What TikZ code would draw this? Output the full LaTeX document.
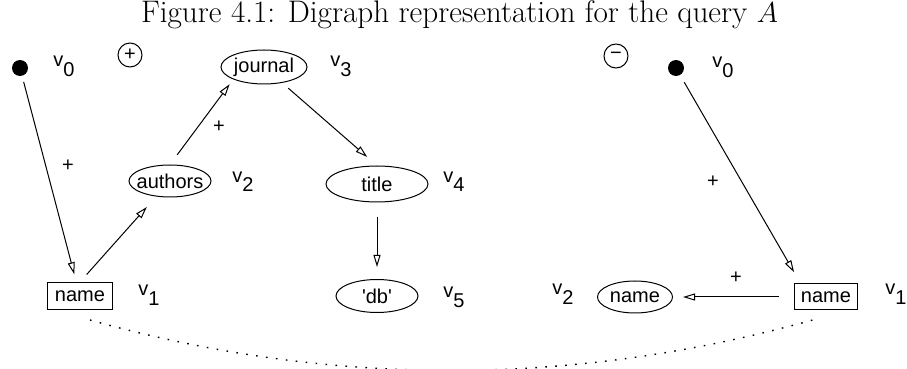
\documentclass[tikz,border=0pt]{standalone}
\usepackage{fontspec}
\setsansfont{Liberation Sans}
\usetikzlibrary{arrows.meta,shapes.geometric}
\newcommand{\vsub}[1]{\raisebox{5pt}{v}#1}
\newcommand{\zbox}[1]{\makebox[0pt]{#1}}

\begin{document}
\begin{tikzpicture}[x=0.5pt, y=-0.5pt,
  sans/.style={font=\sffamily\fontsize{10}{12}\selectfont},
  oval/.style={draw, ellipse, inner sep=0pt, line width=0.5pt, sans},
  namebox/.style={draw, rectangle, inner sep=0pt, line width=0.5pt, sans},
  vertex/.style={circle, fill=black, inner sep=0pt, minimum size=8pt},
  sign/.style={draw, circle, inner sep=0pt, minimum size=12pt, line width=0.5pt, sans},
  vlabel/.style={sans, anchor=base west, inner sep=0pt},
  pluslabel/.style={sans, inner sep=0pt},
  link/.style={-{Triangle[open, length=6pt, width=3.5pt]}, line width=0.5pt},
]
\useasboundingbox (0,0) rectangle (907,369);
\node[anchor=base] (cap) at (459.5,23) {\fontsize{15.6}{18}\selectfont Figure 4.1: Digraph representation for the query $A$};
% positive digraph
\node[vertex] (l0) at (20,68) {};
\node[vlabel] at (53,77) {\vsub{0}};
\node[sign] (pos) at (130,55) {+};
\node[oval, minimum width=43pt, minimum height=17pt] (l3) at (264,67) {\zbox{journal}};
\node[vlabel] at (330,77) {\vsub{3}};
\node[oval, minimum width=41pt, minimum height=16pt] (l2) at (170,181) {\zbox{authors}};
\node[vlabel] at (232,192) {\vsub{2}};
\node[namebox, minimum width=32.5pt, minimum height=13.5pt] (l1) at (80,296) {\zbox{name}};
\node[vlabel] at (138,306) {\vsub{1}};
\node[oval, minimum width=51pt, minimum height=18pt] (l4) at (377,184) {\zbox{title}};
\node[vlabel] at (443,192) {\vsub{4}};
\node[oval, minimum width=41pt, minimum height=16.5pt] (l5) at (377,296) {\zbox{\textquotesingle db\textquotesingle}};
\node[vlabel] at (443,307) {\vsub{5}};
\draw[link, shorten <=3pt, shorten >=4pt] (l0) -- (l1);
\draw[link, shorten <=5pt, shorten >=7pt] (l1.north) -- (l2);
\draw[link, shorten <=6pt, shorten >=3pt] (l2.north) -- (l3.south west);
\draw[link, shorten <=4pt, shorten >=6.5pt] (l3) -- (l4.north);
\draw[link, shorten <=7.5pt, shorten >=6pt] (l4.south) -- (l5.north);
\node[pluslabel] at (68,166) {+};
\node[pluslabel] at (219,127) {+};
% negative digraph
\node[sign] (neg) at (616,56) {−};
\node[vertex] (r0) at (676,68) {};
\node[vlabel] at (712,78) {\vsub{0}};
\node[namebox, minimum width=31.5pt, minimum height=13pt] (r1) at (826,297) {\zbox{name}};
\node[vlabel] at (885,305) {\vsub{1}};
\node[oval, minimum width=37.5pt, minimum height=16pt] (r2) at (635,297) {\zbox{name}};
\node[vlabel] at (552,305) {\vsub{2}};
\draw[link, shorten <=4pt, shorten >=6.5pt] (r0) -- (r1.152);
\draw[link, shorten <=7.5pt, shorten >=5pt] (r1.west) -- (r2.east);
\node[pluslabel] at (713,182) {+};
\node[pluslabel] at (736,278) {+};
% correspondence between the two name vertices
\draw[line width=0.7pt, dash pattern=on 0.8pt off 4.2pt] ([shift={(10,10)}]l1.south) .. controls (333,388) and (575,387) .. ([shift={(-8,8)}]r1.south);
\end{tikzpicture}
\end{document}
